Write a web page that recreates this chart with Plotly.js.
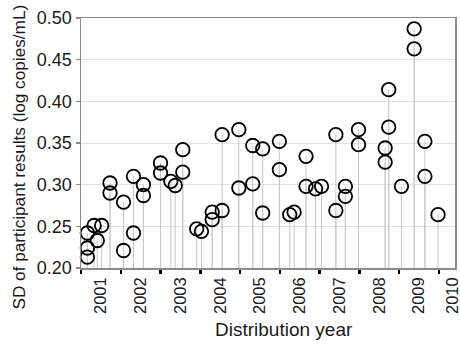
<!DOCTYPE html>
<html>
<head>
<meta charset="utf-8">
<script src="https://cdn.plot.ly/plotly-3.0.1.min.js"></script>
<style>html,body{margin:0;padding:0;background:#fff;}#chart{width:460px;height:345px;}</style>
</head>
<body>
<div id="chart"></div>
<script>
// Distribution time (decimal year) for each result set
var years = [2001.16, 2001.16, 2001.16, 2001.33, 2001.41, 2001.52, 2001.73, 2001.73,
  2002.07, 2002.07, 2002.32, 2002.32, 2002.57, 2002.57,
  2003.0, 2003.0, 2003.26, 2003.37, 2003.56, 2003.56, 2003.91,
  2004.03, 2004.3, 2004.3, 2004.55, 2004.55, 2004.97, 2004.97,
  2005.32, 2005.32, 2005.57, 2005.57, 2005.99, 2005.99,
  2006.25, 2006.36, 2006.66, 2006.66, 2006.9,
  2007.05, 2007.41, 2007.41, 2007.65, 2007.65, 2007.98, 2007.98,
  2008.65, 2008.65, 2008.74, 2008.74,
  2009.06, 2009.38, 2009.38, 2009.65, 2009.65, 2009.98];
// SD of participant results (log copies/mL)
var sdValues = [0.242, 0.224, 0.213, 0.251, 0.233, 0.251, 0.302, 0.290,
  0.279, 0.221, 0.310, 0.242, 0.300, 0.287,
  0.326, 0.314, 0.304, 0.299, 0.342, 0.315, 0.247,
  0.244, 0.267, 0.258, 0.360, 0.269, 0.366, 0.296,
  0.347, 0.301, 0.343, 0.266, 0.352, 0.318,
  0.264, 0.267, 0.334, 0.298, 0.295,
  0.298, 0.360, 0.269, 0.298, 0.286, 0.366, 0.348,
  0.344, 0.327, 0.414, 0.369,
  0.298, 0.487, 0.463, 0.352, 0.310, 0.264];
var yBase = 0.20;
var yearTicks = [2001, 2002, 2003, 2004, 2005, 2006, 2007, 2008, 2009, 2010];
var yearLabels = ['2001', '2002', '2003', '2004', '2005', '2006', '2007', '2008', '2009', '2010'];
var labelPos = [2001.5, 2002.5, 2003.5, 2004.5, 2005.5, 2006.5, 2007.5, 2008.5, 2009.5, 2010.35];
var yTicks = [0.20, 0.25, 0.30, 0.35, 0.40, 0.45, 0.50];
var yTickText = ['0.20', '0.25', '0.30', '0.35', '0.40', '0.45', '0.50'];
var xTitle = 'Distribution year';
var yTitle = 'SD of participant results (log copies/mL)';

var xRange = [2001, 2010.407];
var stemDown = sdValues.map(function (v) { return v - yBase; });
var font = 'Arial, "Liberation Sans", sans-serif';

var traces = [
  {
    type: 'scatter', mode: 'markers', x: years, y: sdValues,
    marker: {symbol: 'circle-open', size: 13.5, color: '#000', line: {width: 1.8, color: '#000'}},
    error_y: {type: 'data', symmetric: false, array: sdValues.map(function () { return 0; }),
      arrayminus: stemDown, color: '#c8c8c8', thickness: 1, width: 0},
    hoverinfo: 'x+y', showlegend: false, cliponaxis: false
  },
  {
    type: 'scatter', mode: 'markers', x: labelPos, y: labelPos.map(function () { return null; }),
    xaxis: 'x2', yaxis: 'y', hoverinfo: 'skip', showlegend: false
  }
];

var layout = {
  width: 460, height: 345,
  margin: {l: 81, r: 4.5, t: 17.7, b: 76.7},
  paper_bgcolor: '#fff', plot_bgcolor: '#fff',
  font: {family: font, color: '#1a1a1a'},
  showlegend: false,
  xaxis: {
    range: xRange, tickmode: 'array', tickvals: yearTicks, showticklabels: false,
    ticks: 'outside', ticklen: 4, tickwidth: 2.5, tickcolor: '#000',
    showline: true, linecolor: '#8a8a8a', linewidth: 1.5, mirror: true,
    showgrid: false, zeroline: false
  },
  xaxis2: {
    overlaying: 'x', side: 'bottom', range: xRange, tickmode: 'array',
    tickvals: labelPos, ticktext: yearLabels, tickangle: -90, ticks: '',
    tickfont: {size: 16.5, family: font, color: '#1a1a1a'},
    showline: false, showgrid: false, zeroline: false, ticklabelstandoff: 5,
    ticklabeloverflow: 'allow'
  },
  yaxis: {
    range: [0.2, 0.5], tickmode: 'array', tickvals: yTicks, ticktext: yTickText,
    tickfont: {size: 18, family: font, color: '#1a1a1a'},
    ticks: 'outside', ticklen: 4, tickwidth: 1.2, tickcolor: '#8a8a8a',
    showline: true, linecolor: '#8a8a8a', linewidth: 1.5, mirror: true,
    showgrid: true, gridcolor: '#e3e3e3', gridwidth: 1, zeroline: false
  },
  annotations: [
    {text: xTitle, xref: 'paper', yref: 'paper', x: (284 - 81) / 374.5, y: (268.3 - 330) / 250.6,
      xanchor: 'center', yanchor: 'middle', showarrow: false,
      font: {size: 19, family: font, color: '#1a1a1a'}},
    {text: yTitle, xref: 'paper', yref: 'paper', x: (19 - 81) / 374.5, y: (268.3 - 157.5) / 250.6,
      xanchor: 'center', yanchor: 'middle', textangle: -90, showarrow: false,
      font: {size: 17.2, family: font, color: '#1a1a1a'}}
  ]
};

Plotly.newPlot('chart', traces, layout, {displayModeBar: false, staticPlot: true});
</script>
</body>
</html>
